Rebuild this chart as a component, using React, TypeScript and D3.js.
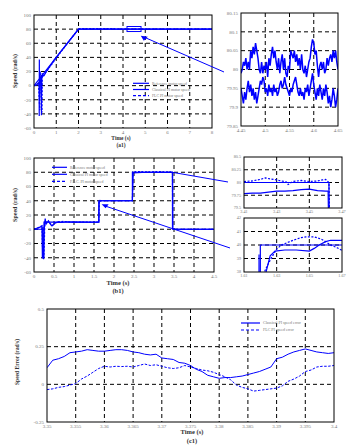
import React from 'react';
import * as d3 from 'd3';

type Pt = [number, number];

const BLUE = '#0000ff';

// ---------- (a1) main ----------
const a1Reference: Pt[] = [[0, 0], [2, 80], [8, 80]];
const a1Classical: Pt[] = [[0, 0], [0.1, 1], [0.2, 3], [0.23, 5], [0.235, -43], [0.24, 37], [0.245, -20], [0.25, 10], [0.27, 5], [0.3, 9], [0.33, -20], [0.335, -42], [0.34, 15], [0.345, -10], [0.35, 12], [0.4, 14], [0.45, 14], [0.5, 17], [0.55, 20], [0.6, 22], [0.7, 27], [0.8, 31], [0.9, 36], [1.0, 40], [1.2, 48], [1.4, 56], [1.6, 64], [1.8, 72], [2.0, 80], [2.1, 80.2], [8, 80]];
const a1Flc: Pt[] = [[0, 0], [0.1, 1], [0.2, 4], [0.22, -8], [0.26, -35], [0.28, 20], [0.3, 8], [0.32, -5], [0.36, -38], [0.37, 18], [0.38, 12], [0.45, 16], [0.55, 19], [0.7, 26], [1, 39], [1.5, 60], [2, 80], [2.05, 80.8], [3.6, 80.8], [3.65, 80], [8, 80]];

// ---------- (a1) inset ----------
const a1InsetUpper = [79.99, 80.0, 80.02, 80.01, 80.03, 80.0, 80.02, 80.0, 80.05, 80.03, 80.06, 80.04, 80.07, 80.05, 80.03, 80.0, 79.99, 80.02, 79.99, 80.01, 80.0, 80.02, 79.98, 80.03, 80.01, 80.04, 80.06, 80.03, 80.05, 80.02, 80.0, 80.03, 79.99, 80.02, 80.04, 80.0, 80.03, 79.99, 79.98, 80.01, 80.0, 80.05, 80.04, 80.03, 80.05, 80.02, 80.04, 80.01, 80.03, 80.0, 80.04, 80.0, 79.99, 80.01, 79.98, 80.0, 80.02, 80.03, 80.06, 80.08, 80.07, 80.04, 80.05, 80.01, 79.98, 80.01, 80.02, 80.0, 80.02, 79.99, 80.0, 80.03, 80.01, 80.03, 80.04, 80.02, 80.05, 80.03, 80.05, 80.02, 80.0];
const a1InsetLower = [79.95, 79.93, 79.91, 79.94, 79.92, 79.95, 79.97, 79.94, 79.96, 79.93, 79.95, 79.92, 79.94, 79.91, 79.93, 79.95, 79.97, 79.96, 79.98, 79.97, 79.94, 79.95, 79.93, 79.96, 79.94, 79.95, 79.93, 79.96, 79.94, 79.95, 79.93, 79.94, 79.96, 79.97, 79.95, 79.96, 79.98, 79.96, 79.95, 79.94, 79.93, 79.95, 79.94, 79.96, 79.97, 79.98, 79.96, 79.94, 79.93, 79.95, 79.93, 79.94, 79.92, 79.95, 79.94, 79.96, 79.93, 79.95, 79.97, 79.99, 79.96, 79.94, 79.92, 79.95, 79.93, 79.96, 79.94, 79.92, 79.95, 79.93, 79.96, 79.94, 79.91, 79.93, 79.9, 79.92, 79.95, 79.93, 79.9, 79.92, 79.95];

// ---------- (b1) main ----------
const b1Reference: Pt[] = [[0, 0], [0.25, 0], [0.25, 10], [1.62, 10], [1.62, 40], [2.46, 40], [2.46, 80], [3.462, 80], [3.462, 0], [4.5, 0]];
const b1Classical: Pt[] = [[0, 0], [0.05, 1], [0.1, 2], [0.15, 3], [0.2, 4], [0.21, -41], [0.22, 2], [0.24, -42], [0.26, 5], [0.28, 15], [0.3, 7], [0.33, 10], [0.36, 11], [0.4, 8], [0.44, 5], [0.48, 6], [0.52, 9], [0.6, 10], [0.7, 9.5], [0.8, 10.5], [1.0, 10], [1.2, 10], [1.4, 9.8], [1.62, 10], [1.63, 38], [1.65, 39.5], [1.7, 40], [2.46, 40], [2.48, 79], [2.7, 79.8], [3.0, 79.7], [3.3, 79.8], [3.45, 79.85], [3.462, 79.8], [3.47, 1], [3.5, 0], [4.5, 0]];
const b1Flc: Pt[] = [[0, 0], [0.1, 2], [0.2, 5], [0.215, -30], [0.23, 3], [0.25, -40], [0.27, 8], [0.29, 12], [0.32, 9], [0.36, 12], [0.42, 7], [0.46, 5], [0.5, 8], [0.6, 10.5], [0.75, 11], [0.9, 10], [1.62, 10], [1.63, 39], [1.65, 40.6], [1.7, 40], [2.46, 40], [2.47, 80.5], [2.6, 81], [2.8, 80.4], [3.1, 81], [3.3, 80.5], [3.45, 80.4], [3.462, 80], [3.465, 2], [3.5, 0], [4.5, 0]];

// ---------- (b1) top inset ----------
const b1TopReference: Pt[] = [[3.41, 80], [3.462, 80], [3.4622, 79.2]];
const b1TopClassical: Pt[] = [[3.41, 79.78], [3.415, 79.79], [3.42, 79.79], [3.425, 79.81], [3.43, 79.83], [3.435, 79.83], [3.44, 79.84], [3.445, 79.86], [3.45, 79.87], [3.455, 79.84], [3.46, 79.83], [3.4615, 79.83], [3.4618, 79.2]];
const b1TopFlc: Pt[] = [[3.41, 80.02], [3.415, 80.03], [3.418, 80.05], [3.42, 80.06], [3.423, 80.09], [3.426, 80.07], [3.43, 80.05], [3.433, 80.03], [3.436, 80.01], [3.437, 79.96], [3.44, 80.02], [3.445, 80.04], [3.45, 80.02], [3.455, 80.03], [3.458, 80.05], [3.46, 80.06], [3.462, 80.0], [3.4625, 79.2]];

// ---------- (b1) bottom inset ----------
const b1BotReference: Pt[] = [[1.61, 10], [1.62, 10], [1.62, 40], [1.67, 40]];
const b1BotClassical: Pt[] = [[1.61, 10], [1.619, 10], [1.6192, 39.3], [1.6197, 30], [1.6225, 30], [1.6235, 38], [1.626, 39.2], [1.629, 39.55], [1.635, 39.63], [1.642, 39.63], [1.65, 39.55], [1.653, 39.75], [1.656, 40.0], [1.66, 40.25], [1.663, 40.35], [1.67, 40.35]];
const b1BotFlc: Pt[] = [[1.61, 10], [1.62, 10], [1.621, 37.6], [1.624, 38.4], [1.627, 39.1], [1.63, 39.7], [1.633, 40.0], [1.637, 40.2], [1.64, 40.35], [1.645, 40.55], [1.648, 40.6], [1.653, 40.6], [1.657, 40.45], [1.66, 40.25], [1.663, 40.0], [1.667, 39.8], [1.67, 39.6]];

// ---------- (c1) ----------
const c1Classical = [0.11, 0.16, 0.17, 0.185, 0.21, 0.215, 0.22, 0.23, 0.225, 0.22, 0.22, 0.225, 0.23, 0.23, 0.225, 0.215, 0.21, 0.2, 0.195, 0.2, 0.175, 0.17, 0.165, 0.145, 0.14, 0.125, 0.1, 0.085, 0.06, 0.05, 0.04, 0.045, 0.045, 0.05, 0.055, 0.065, 0.075, 0.085, 0.1, 0.115, 0.17, 0.18, 0.2, 0.215, 0.225, 0.235, 0.225, 0.215, 0.21, 0.205, 0.21];
const c1Flc = [-0.035, -0.03, -0.02, -0.015, -0.005, 0.005, 0.035, 0.055, 0.08, 0.105, 0.12, 0.115, 0.12, 0.118, 0.12, 0.115, 0.125, 0.135, 0.125, 0.13, 0.12, 0.11, 0.105, 0.11, 0.125, 0.115, 0.105, 0.095, 0.09, 0.08, 0.065, 0.05, 0.03, -0.005, -0.02, -0.03, -0.045, -0.04, -0.035, -0.03, -0.025, -0.01, 0.02, 0.035, 0.055, 0.085, 0.095, 0.115, 0.12, 0.12, 0.125];

// tick values
const a1XTicks = [0, 1, 2, 3, 4, 5, 6, 7, 8];
const a1YTicks = [-60, -40, -20, 0, 20, 40, 60, 80, 100];
const a1InXTicks = [4.45, 4.5, 4.55, 4.6, 4.65];
const a1InYTicks = [79.85, 79.9, 79.95, 80, 80.05, 80.1, 80.15];
const b1XTicks = [0, 0.5, 1, 1.5, 2, 2.5, 3, 3.5, 4, 4.5];
const b1YTicks = [-60, -40, -20, 0, 20, 40, 60, 80, 100];
const b1TopXTicks = [3.41, 3.43, 3.45, 3.47];
const b1TopYTicks = [79.5, 79.75, 80, 80.25, 80.5];
const b1BotXTicks = [1.61, 1.63, 1.65, 1.67];
const b1BotYTicks = [38, 39, 40, 41, 42];
const c1XTicks = [3.35, 3.355, 3.36, 3.365, 3.37, 3.375, 3.38, 3.385, 3.39, 3.395, 3.4];
const c1YTicks = [-0.25, 0, 0.25, 0.5];

const legendAB = ['Reference motor speed', 'Classical PI motor speed', 'F.L.C. PI motor speed'];
const legendC = ['Classical PI speed error', 'FLC PI speed error'];

const fmt = (v: number) => String(+v.toFixed(4));
const FONT = 'Liberation Serif, Times New Roman, serif';

function sampled(vals: number[], t0: number, t1: number): Pt[] {
  const n = vals.length;
  return vals.map((v, i) => [t0 + ((t1 - t0) * i) / (n - 1), v] as Pt);
}

type Series = { data: Pt[]; dash?: string; width?: number };

type PanelProps = {
  id: string;
  x0: number; x1: number; y0: number; y1: number;
  xDomain: [number, number]; yDomain: [number, number];
  xTicks: number[]; yTicks: number[];
  series: Series[];
  fs?: number;
  extra?: (xs: d3.ScaleLinear<number, number>, ys: d3.ScaleLinear<number, number>) => React.ReactNode;
};

function Panel({ id, x0, x1, y0, y1, xDomain, yDomain, xTicks, yTicks, series, fs = 5, extra }: PanelProps) {
  const xs = d3.scaleLinear().domain(xDomain).range([x0, x1]);
  const ys = d3.scaleLinear().domain(yDomain).range([y1, y0]);
  const line = d3.line<Pt>().x(d => xs(d[0])).y(d => ys(d[1]));
  const eps = 1e-9;
  const innerX = xTicks.filter(t => t > xDomain[0] + eps && t < xDomain[1] - eps);
  const innerY = yTicks.filter(t => t > yDomain[0] + eps && t < yDomain[1] - eps);
  return (
    <g>
      <defs>
        <clipPath id={id}>
          <rect x={x0} y={y0} width={x1 - x0} height={y1 - y0} />
        </clipPath>
      </defs>
      {innerX.map(t => (
        <line key={'gx' + t} x1={xs(t)} x2={xs(t)} y1={y0} y2={y1} stroke="#000" strokeWidth={1} strokeDasharray="4,3" />
      ))}
      {innerY.map(t => (
        <line key={'gy' + t} x1={x0} x2={x1} y1={ys(t)} y2={ys(t)} stroke="#000" strokeWidth={1} strokeDasharray="4,3" />
      ))}
      <g clipPath={`url(#${id})`}>
        {series.map((s, i) => (
          <path key={i} d={line(s.data) || ''} fill="none" stroke={BLUE} strokeWidth={s.width ?? 1.2} strokeDasharray={s.dash} />
        ))}
      </g>
      <rect x={x0} y={y0} width={x1 - x0} height={y1 - y0} fill="none" stroke="#000" strokeWidth={1} />
      {xTicks.map(t => (
        <text key={'tx' + t} x={xs(t)} y={y1 + fs + 1} fontSize={fs} fill="#777" textAnchor="middle" fontFamily={FONT}>{fmt(t)}</text>
      ))}
      {yTicks.map(t => (
        <text key={'ty' + t} x={x0 - 3} y={ys(t) + fs * 0.35} fontSize={fs} fill="#777" textAnchor="end" fontFamily={FONT}>{fmt(t)}</text>
      ))}
      {extra && extra(xs, ys)}
    </g>
  );
}

function Legend({ x, y, dy, items, len, fs }: { x: number; y: number; dy: number; items: { label: string; dash?: string }[]; len: number; fs: number }) {
  return (
    <g>
      {items.map((it, i) => (
        <g key={i}>
          <line x1={x} x2={x + len} y1={y + i * dy} y2={y + i * dy} stroke={BLUE} strokeWidth={1.2} strokeDasharray={it.dash} />
          <text x={x + len + 3} y={y + i * dy + fs * 0.35} fontSize={fs} fill="#777" fontFamily={FONT}>{it.label}</text>
        </g>
      ))}
    </g>
  );
}

export default function App() {
  return (
    <svg width={358} height={445} style={{ position: 'absolute', left: 0, top: 0, background: '#fff' }} fontFamily={FONT}>
      <rect x={0} y={0} width={358} height={445} fill="#fff" />
      {/* (a1) main */}
      <Panel id="a1" x0={34} x1={212} y0={15} y1={128} xDomain={[0, 8]} yDomain={[-60, 100]} xTicks={a1XTicks} yTicks={a1YTicks}
        series={[{ data: a1Reference }, { data: a1Classical }, { data: a1Flc, dash: '2,1.5' }]}
        extra={(xs, ys) => (
          <g>
            <rect x={xs(4.18)} y={ys(83.7)} width={xs(4.81) - xs(4.18)} height={ys(76.6) - ys(83.7)} fill="none" stroke={BLUE} strokeWidth={1} />
            <line x1={xs(8.54)} y1={ys(19.3)} x2={xs(4.95)} y2={ys(68.6)} stroke={BLUE} strokeWidth={1} />
            <path d={`M${xs(4.8)},${ys(70.7)} l7,1 l-4,4 z`} fill={BLUE} />
          </g>
        )}
      />
      <Legend x={133} y={83.3} dy={6.2} len={16} fs={3.8} items={[{ label: legendAB[0] }, { label: legendAB[1] }, { label: 'FLC PI motor speed', dash: '3,2' }]} />
      <text x={0} y={0} transform="translate(17,71) rotate(-90)" fontSize={6} fontWeight="bold" fill="#333" textAnchor="middle">Speed (rad/s)</text>
      <text x={121} y={140} fontSize={5.5} fill="#333" textAnchor="middle" fontWeight="bold">Time (s)</text>
      <text x={121} y={147} fontSize={5.5} fill="#333" textAnchor="middle" fontWeight="bold">(a1)</text>

      {/* (a1) inset */}
      <Panel id="a1in" x0={241} x1={338} y0={13} y1={126} xDomain={[4.45, 4.65]} yDomain={[79.85, 80.15]} xTicks={a1InXTicks} yTicks={a1InYTicks}
        series={[{ data: sampled(a1InsetUpper, 4.45, 4.65), width: 1.5 }, { data: sampled(a1InsetLower, 4.45, 4.65), width: 1.5 }]} />

      {/* (b1) main */}
      <Panel id="b1" x0={34} x1={214} y0={158} y1={272} xDomain={[0, 4.5]} yDomain={[-60, 100]} xTicks={b1XTicks} yTicks={b1YTicks}
        series={[{ data: b1Reference }, { data: b1Classical }, { data: b1Flc, dash: '2,1.5' }]}
        extra={(xs, ys) => (
          <g>
            <line x1={xs(3.45)} y1={ys(80)} x2={xs(4.85)} y2={ys(66.3)} stroke={BLUE} strokeWidth={1} />
            <line x1={xs(4.9)} y1={ys(-26.3)} x2={xs(1.76)} y2={ys(33)} stroke={BLUE} strokeWidth={1} />
            <path d={`M${xs(1.69)},${ys(35)} l7,0 l-3,4 z`} fill={BLUE} />
          </g>
        )}
      />
      <Legend x={52} y={167.3} dy={7} len={15} fs={3.8} items={[{ label: legendAB[0] }, { label: legendAB[1] }, { label: legendAB[2], dash: '3,2' }]} />
      <text x={0} y={0} transform="translate(17,205) rotate(-90)" fontSize={6} fontWeight="bold" fill="#333" textAnchor="middle">Speed (rad/s)</text>
      <text x={118} y={285} fontSize={6.5} fill="#333" textAnchor="middle" fontWeight="bold">Time (s)</text>
      <text x={118} y={293} fontSize={6.5} fill="#333" textAnchor="middle" fontWeight="bold">(b1)</text>

      {/* (b1) insets */}
      <Panel id="b1t" x0={244} x1={342} y0={157} y1={208} xDomain={[3.41, 3.47]} yDomain={[79.5, 80.5]} xTicks={b1TopXTicks} yTicks={b1TopYTicks} fs={4.2}
        series={[{ data: b1TopReference }, { data: b1TopClassical }, { data: b1TopFlc, dash: '2,1.5' }]} />
      <Panel id="b1b" x0={244} x1={342} y0={218} y1={272} xDomain={[1.61, 1.67]} yDomain={[38, 42]} xTicks={b1BotXTicks} yTicks={b1BotYTicks} fs={4.2}
        series={[{ data: b1BotReference }, { data: b1BotClassical }, { data: b1BotFlc, dash: '2,1.5' }]} />

      {/* (c1) */}
      <Panel id="c1" x0={47} x1={334} y0={309} y1={422} xDomain={[3.35, 3.4]} yDomain={[-0.25, 0.5]} xTicks={c1XTicks} yTicks={c1YTicks}
        series={[{ data: sampled(c1Classical, 3.35, 3.4), width: 1 }, { data: sampled(c1Flc, 3.35, 3.4), width: 1, dash: '2.5,1.5' }]} />
      <Legend x={241} y={323} dy={7} len={19} fs={4} items={[{ label: legendC[0] }, { label: legendC[1], dash: '3,2' }]} />
      <text x={0} y={0} transform="translate(19,362) rotate(-90)" fontSize={5.5} fontWeight="bold" fill="#333" textAnchor="middle">Speed Error (rad/s)</text>
      <text x={192} y={434} fontSize={6.5} fill="#333" textAnchor="middle" fontWeight="bold">Time (s)</text>
      <text x={192} y={443} fontSize={6.5} fill="#333" textAnchor="middle" fontWeight="bold">(c1)</text>
    </svg>
  );
}
